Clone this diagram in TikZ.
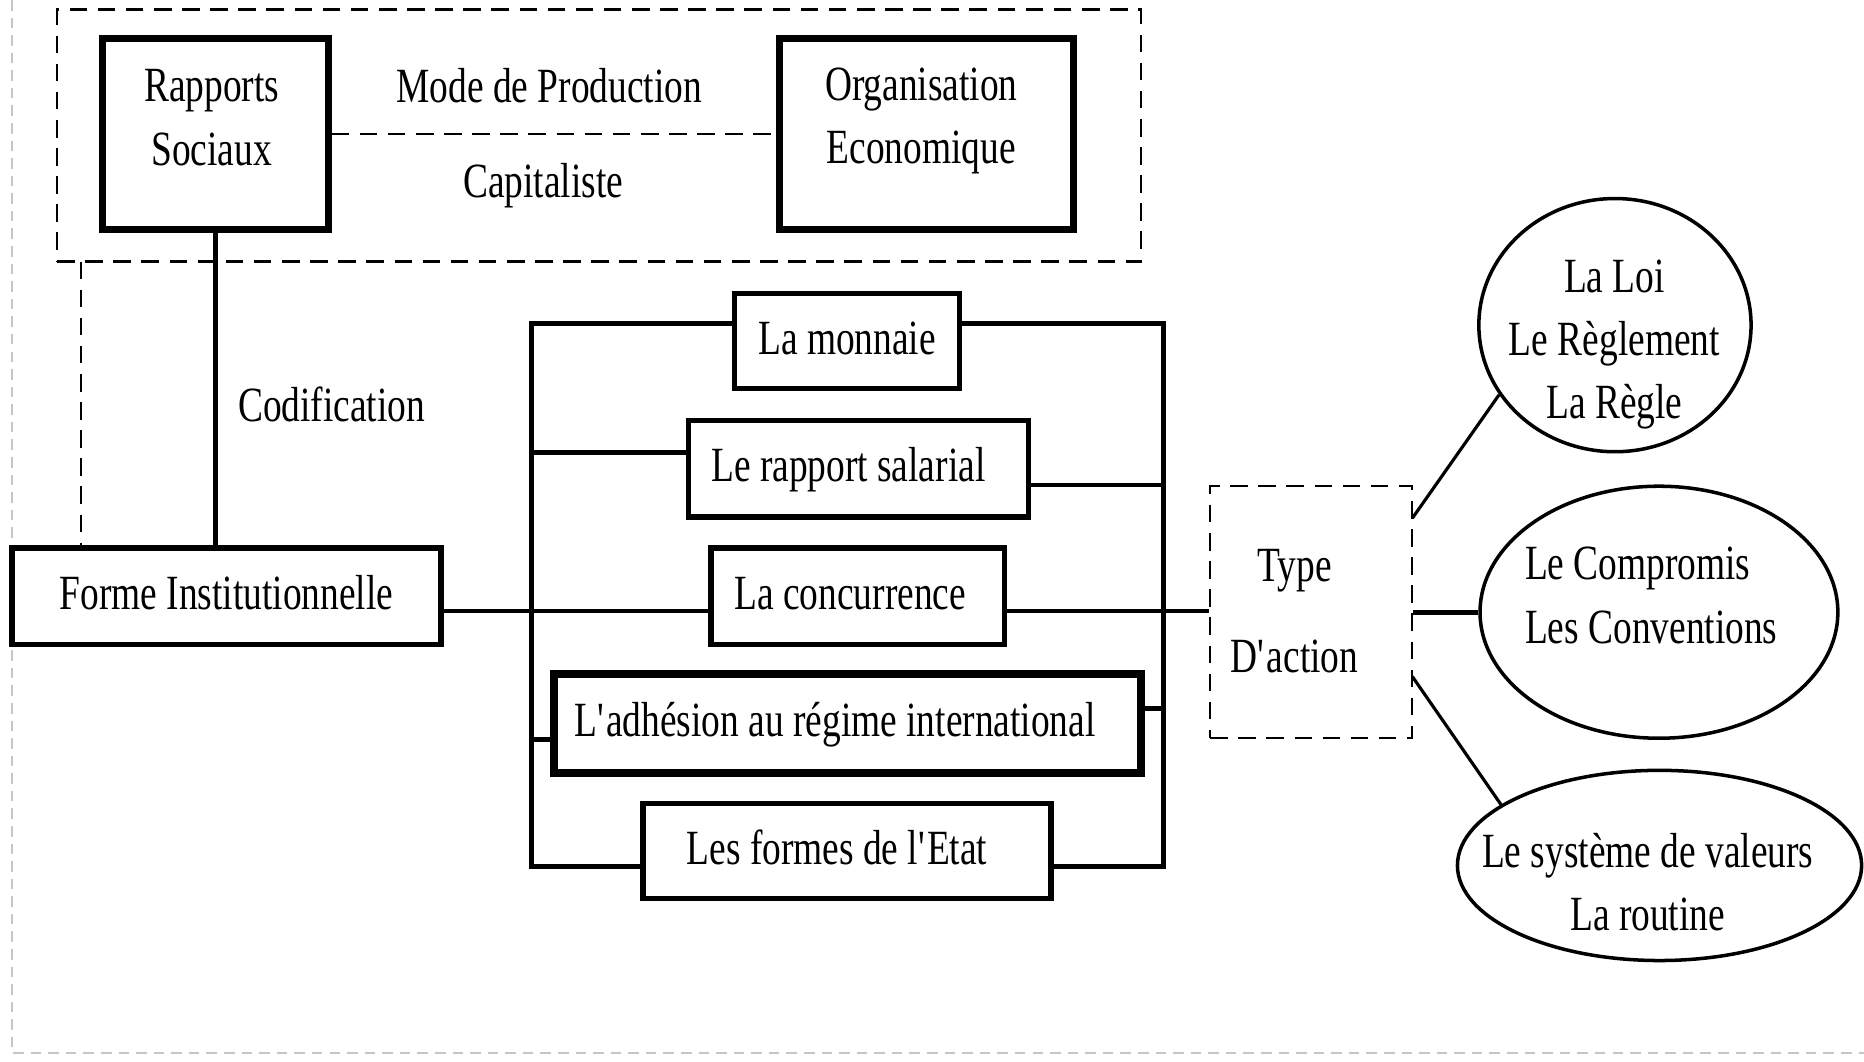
\documentclass[tikz,border=0pt]{standalone}
\usepackage{fontspec}
\setmainfont[FakeStretch=0.76]{Liberation Serif}
\usetikzlibrary{positioning}
\usetikzlibrary{shapes.geometric}

\newcommand{\un}{0.011888cm}

\begin{document}
\begin{tikzpicture}[x=0.011888cm, y=-0.011888cm,
  every node/.style={font=\fontsize{14}{18}\selectfont},
  dashline/.style={line width=0.6pt, dash pattern=on 5pt off 3pt},
  box/.style={draw, line width=1.5pt, inner sep=0pt, text height=0.84em, text depth=0.1em},
  bigbox/.style={draw, line width=2pt},
  dashbox/.style={draw, dashline},
  ell/.style={draw, ellipse, line width=1pt, inner sep=0pt},
  txt/.style={align=center, inner sep=0pt},
  link/.style={line width=1.4pt},
  thinlink/.style={line width=0.9pt}]

\useasboundingbox (0,0) rectangle (1568,893);

% page frame
\draw[gray!45, line width=0.5pt, dash pattern=on 3pt off 2pt] (10,0) -- (10,886) -- (1568,886);

% mode de production
\node[dashbox, minimum width=912*\un, minimum height=212*\un] (modeprod) at (504,114) {};
\node[bigbox, minimum width=190*\un, minimum height=161*\un] (rapports) at (181,112.5) {};
\node[txt] (rapportsT) at (178,99) {Rapports\\Sociaux};
\node[bigbox, minimum width=247*\un, minimum height=161*\un] (organisation) at (779.5,112.5) {};
\node[txt] (organisationT) at (775,102) {Organisation\\Economique};
\draw[dashline] (rapports) -- (organisation);
\node[txt] (modeT) at (462,72) {Mode de Production};
\node[txt] (capT) at (457,156) {Capitaliste};

% forme institutionnelle
\node[box, minimum width=361*\un, minimum height=81*\un] (forme) at (190.5,501.5) {Forme Institutionnelle};
\draw[link] (rapports.south) -- (rapports.south |- forme.north);
\coordinate (codTop) at (68,220);
\draw[dashline] (codTop) -- (codTop |- forme.north);
\node[txt] (codT) at (279,340) {Codification};

% les cinq formes
\node[box, minimum width=189*\un, minimum height=80*\un] (monnaie) at (712.5,287) {La monnaie};
\node[box, minimum width=286*\un, minimum height=81*\un] (salarial) at (722,394.5) {Le rapport salarial\kern0.2cm};
\node[box, minimum width=247*\un, minimum height=81*\un] (concur) at (721.5,501.5) {La concurrence\kern0.15cm};
\node[box, line width=2.2pt, minimum width=494*\un, minimum height=83*\un] (adhesion) at (713,608.5) {L\textquotesingle adhésion au régime international\kern0.25cm};
\node[box, minimum width=343*\un, minimum height=80*\un] (etat) at (712.5,716) {Les formes de l\textquotesingle Etat\kern0.2cm};

\coordinate (busLT) at (447,272);
\coordinate (busLB) at (447,729);
\coordinate (busRT) at (979,272);
\coordinate (busRB) at (979,729);
\coordinate (jL) at (447,514);
\coordinate (jR) at (979,514);
\coordinate (salL) at (447,381);
\coordinate (salR) at (979,408);
\coordinate (adhL) at (447,622);
\coordinate (adhR) at (979,596);

% type d'action
\node[dashbox, minimum width=170*\un, minimum height=212*\un] (type) at (1103,515) {};
\node[txt] (typeT) at (1089,514) {Type\\[8pt]D\textquotesingle action};

\draw[link] (monnaie.west |- busLT) -- (busLT) -- (busLB) -- (etat.west |- busLB);
\draw[link] (monnaie.east |- busRT) -- (busRT) -- (busRB) -- (etat.east |- busRB);
\draw[link] (salL) -- (salarial.west |- salL);
\draw[link] (salarial.east |- salR) -- (salR);
\draw[link] (forme.east |- jL) -- (concur.west |- jL);
\draw[link] (concur.east |- jR) -- (type.west |- jR);
\draw[link] (adhL) -- (adhesion.west |- adhL);
\draw[link] (adhesion.east |- adhR) -- (adhR);

% ellipses
\node[ell, minimum width=229*\un, minimum height=213*\un] (loi) at (1358.5,273.5) {};
\node[txt] (loiT) at (1358,290) {La Loi\\Le Règlement\\La Règle};
\node[ell, minimum width=301*\un, minimum height=212*\un] (compromis) at (1395.5,515) {};
\node[txt, align=left] (compromisT) at (1389,501) {Le Compromis\\Les Conventions};
\node[ell, minimum width=340*\un, minimum height=160*\un] (routine) at (1396,728) {};
\node[txt] (routineT) at (1386,742) {Le système de valeurs\\La routine};

\coordinate (tA) at (1188,436);
\coordinate (tB) at (1188,569);
\draw[thinlink] (tA) -- (loi.211);
\draw[link] (type.east) -- (compromis.west);
\draw[thinlink] (tB) -- (routine.159);

\end{tikzpicture}
\end{document}
